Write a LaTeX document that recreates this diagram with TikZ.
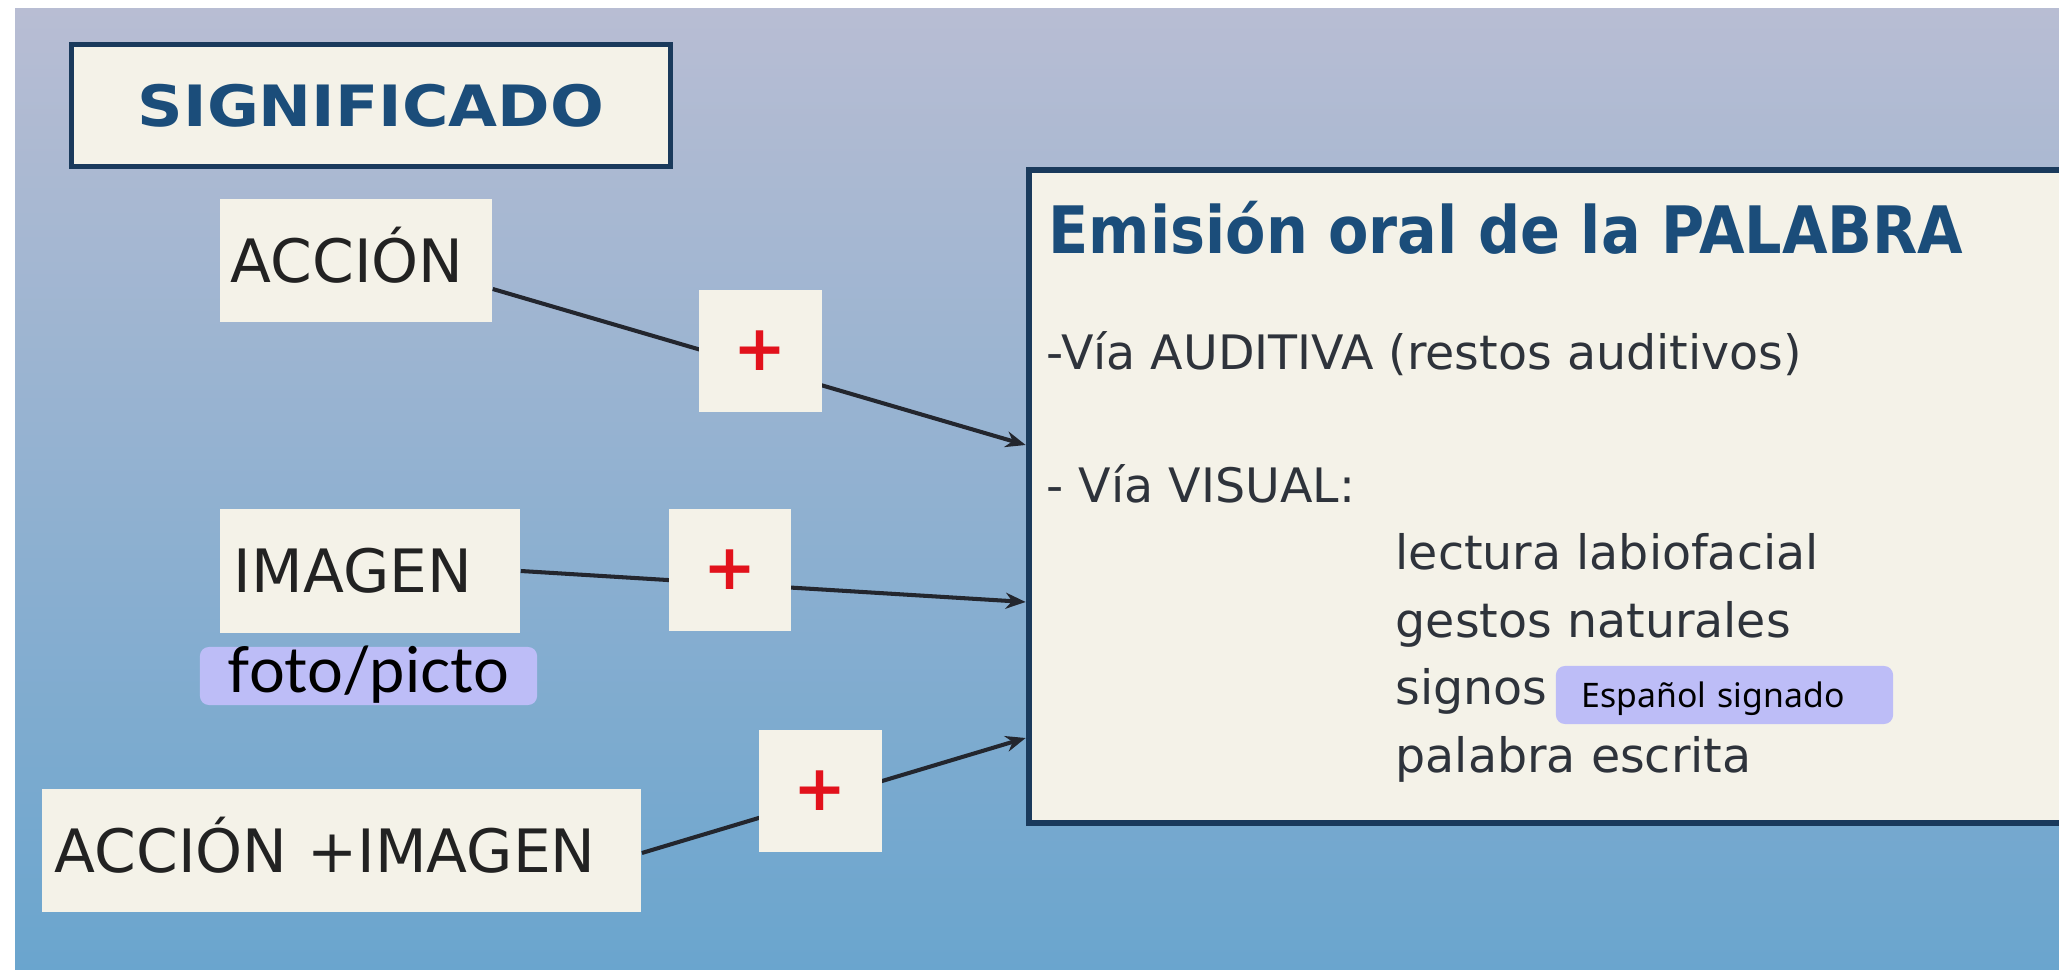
\documentclass[tikz,border=0pt]{standalone}
\usepackage{graphicx}
\usepackage{fontspec}
\setmainfont{DejaVu Sans}
\newfontfamily\latofont{Lato}
\newfontfamily\notofont{Noto Sans}
\usetikzlibrary{arrows.meta}
\definecolor{cream}{HTML}{F4F2E8}
\definecolor{navy}{HTML}{1A3A5C}
\definecolor{titleblue}{HTML}{1B4D7A}
\definecolor{bodycol}{HTML}{2E333B}
\definecolor{wordcol}{HTML}{222222}
\definecolor{lav}{HTML}{BDBDF7}
\definecolor{plusred}{HTML}{E2121C}
\definecolor{linecol}{HTML}{23262E}
\definecolor{bgtop}{HTML}{B8BDD3}
\definecolor{bgmid}{HTML}{98B3D2}
\definecolor{bgbot}{HTML}{6AA5CE}
\begin{document}
\begin{tikzpicture}[x=0.01cm,y=-0.01cm,
  wordbox/.style={fill=cream, inner ysep=0pt, align=left, text height=12.4pt, text depth=0pt,
    minimum height=1.23cm, font=\fontsize{17pt}{20pt}\selectfont, text=wordcol},
  plusbox/.style={fill=cream, minimum size=1.22cm, inner sep=0pt, text=plusred,
    font=\bfseries\fontsize{18pt}{20pt}\selectfont},
  body/.style={anchor=base west, inner sep=0pt, text=bodycol, font=\fontsize{13.5pt}{16pt}\selectfont},
  conn/.style={draw=linecol, line width=1.15pt, -{Stealth[length=0.2cm,width=0.16cm]}},
  lavbox/.style={fill=lav, rounded corners=0.09cm, inner ysep=0pt}
]
\useasboundingbox (0,0) rectangle (2059,970);
\clip (0,0) rectangle (2059,970);
\fill[white] (0,0) rectangle (2059,970);
\shade[top color=bgtop, middle color=bgmid, bottom color=bgbot] (15,9) rectangle (2059,970);

% left column
\node[draw=navy, line width=0.05cm, fill=cream, minimum width=5.99cm, minimum height=1.22cm,
  inner sep=0pt, text=titleblue, font=\bfseries\fontsize{18pt}{20pt}\selectfont]
  (signif) at (371,105.5) {\scalebox{1}[0.9]{SIGNIFICADO}};
\node[wordbox, text width=2.5cm, inner xsep=0.11cm] (acc) at (356,260.5) {ACCIÓN};
\node[wordbox, text width=2.72cm, inner xsep=0.14cm] (img) at (370,571) {IMAGEN};
\node[wordbox, text width=5.73cm, inner xsep=0.13cm] (accimg) at (341.5,850.5) {ACCIÓN +IMAGEN};

% main box
\node[draw=navy, line width=0.06cm, fill=cream, minimum width=10.71cm, minimum height=6.53cm,
  inner sep=0pt] (main) at (1564.5,496.5) {};
\node[anchor=base west, inner sep=0pt, text=titleblue, font=\bfseries\fontsize{18.6pt}{22pt}\selectfont]
  (title) at (1048,253.6) {\scalebox{0.9}[1]{Emisión oral de la PALABRA}};
\node[body] (aud) at (1046,369.6) {-Vía AUDITIVA (restos auditivos)};
\node[body] (vis) at (1046,502.7) {- Vía VISUAL:};
\node[body] (lec) at (1395,569.6) {lectura labiofacial};
\node[body] (ges) at (1395,637) {gestos naturales};
\node[body] (sig) at (1395,705) {signos};
\node[body] (pal) at (1395,772.7) {palabra escrita};

% connectors
\draw[conn] (acc.east |- 0,289) -- (main.west |- 0,445);
\draw[conn] (img.east) -- (main.west |- 0,602);
\draw[conn] (accimg.east |- 0,853) -- (main.west |- 0,738);

% plus boxes
\node[plusbox] (p1) at (760.5,351) {+};
\node[plusbox] (p2) at (730,570) {+};
\node[plusbox] (p3) at (820.5,791) {+};

% lavender labels
\node[lavbox, minimum width=3.37cm, minimum height=0.58cm, inner xsep=0pt,
  text height=13pt, text depth=3.5pt, font=\latofont\fontsize{18pt}{20pt}\selectfont]
  (foto) at (368.5,676) {foto/picto};
\node[lavbox, minimum height=0.58cm, text width=2.85cm, align=left, inner xsep=0.26cm,
  text height=6.85pt, text depth=0pt, font=\notofont\fontsize{9.6pt}{11pt}\selectfont]
  (esp) at (1724.5,695) {Español signado};
\end{tikzpicture}
\end{document}
